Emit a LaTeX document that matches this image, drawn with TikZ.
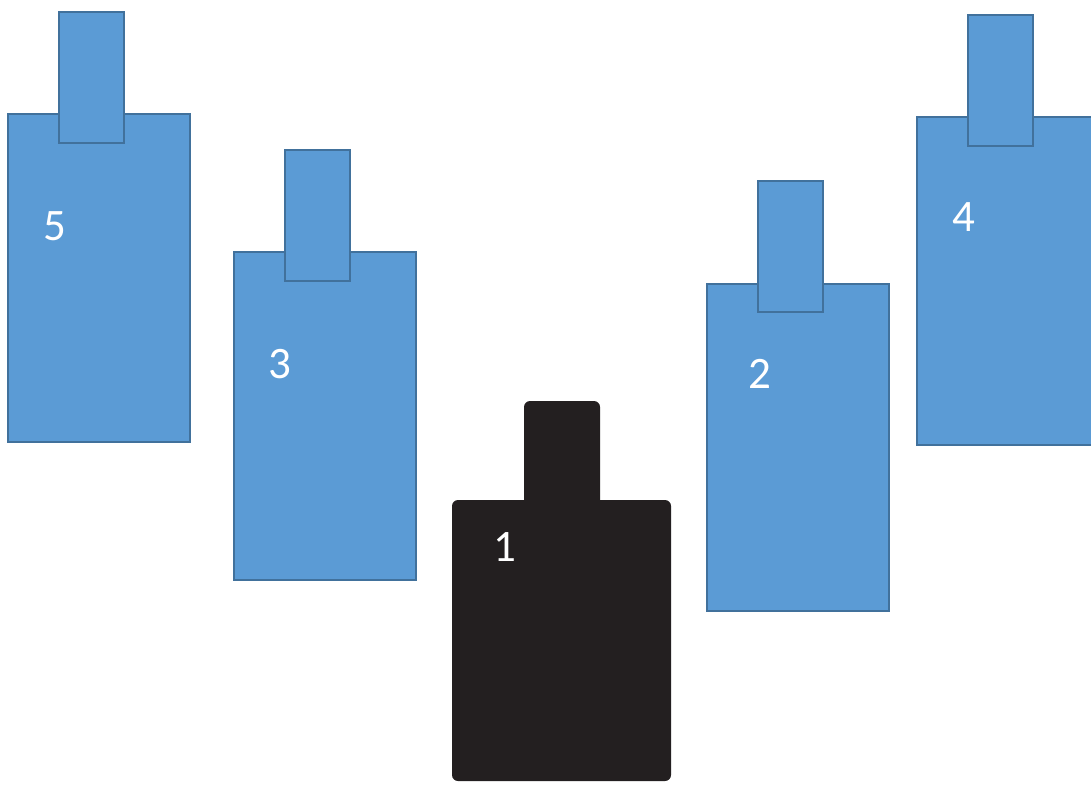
\documentclass[tikz,border=0pt]{standalone}
\usepackage{fontspec}
\setmainfont{Carlito}
\definecolor{bluefill}{HTML}{5B9BD5}
\definecolor{blueedge}{HTML}{41719C}
\definecolor{ink}{HTML}{231F20}
\begin{document}
\begin{tikzpicture}[x=1pt,y=-1pt,
  part/.style={fill=bluefill,draw=blueedge,line width=2pt},
  solid part/.style={fill=ink,rounded corners=6pt},
  num/.style={text=white,inner sep=0pt,font=\fontsize{45}{45}\selectfont}]
\useasboundingbox (0,0) rectangle (1091,788);
\clip (0,0) rectangle (1091,788);

% blue bottles: body first, neck on top
\draw[part] (8,114) rectangle (190,442);
\draw[part] (59,12) rectangle (124,143);
\node[num] (n5) at (55,226) {5};

\draw[part] (234,252) rectangle (416,580);
\draw[part] (285,150) rectangle (350,281);
\node[num] (n3) at (280,364) {3};

\draw[part] (707,284) rectangle (889,611);
\draw[part] (758,181) rectangle (823,312);
\node[num] (n2) at (760,374) {2};

\draw[part] (917,117) rectangle (1100,445);
\draw[part] (968,15) rectangle (1033,146);
\node[num] (n4) at (964,217) {4};

% black bottle: body and neck merged
\fill[solid part] (452,500) rectangle (671,781);
\fill[solid part] (524,401) rectangle (600,530);
\node[num] (n1) at (505,547) {1};
\end{tikzpicture}
\end{document}
